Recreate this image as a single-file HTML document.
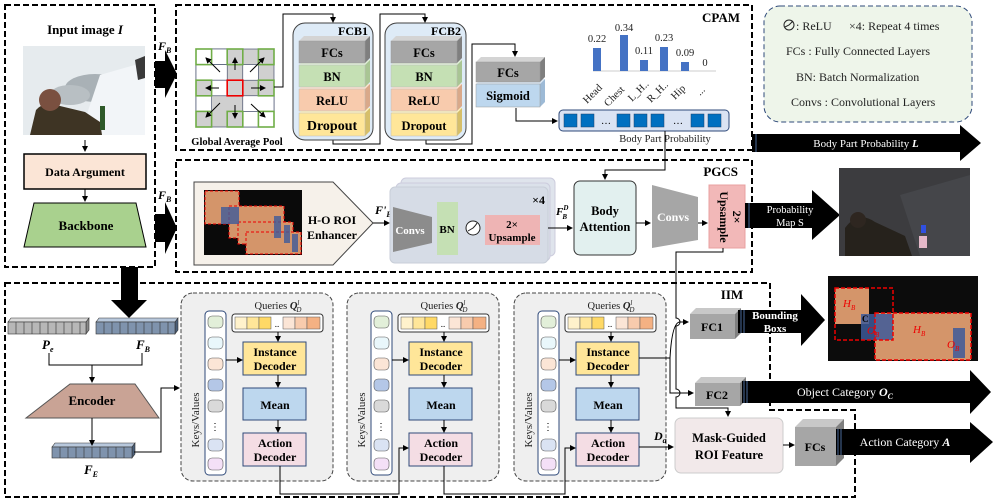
<!DOCTYPE html>
<html><head><meta charset="utf-8"><style>
html,body{margin:0;padding:0;background:#fff}
svg{display:block}
text{font-family:"Liberation Serif",serif}
.b{font-weight:bold}
</style></head><body>
<svg width="997" height="504" viewBox="0 0 997 504" xmlns="http://www.w3.org/2000/svg">
<defs>
<marker id="ar" markerWidth="6" markerHeight="6" refX="5" refY="3" orient="auto"><path d="M0,0 L6,3 L0,6 z" fill="#000"/></marker>
</defs>

<!-- Left box -->
<rect x="5" y="5" width="150" height="262" fill="none" stroke="#000" stroke-width="2" stroke-dasharray="6,3"/>
<text x="85" y="34" font-size="13" text-anchor="middle" class="b">Input image <tspan font-style="italic">I</tspan></text>
<rect x="23" y="46" width="122" height="89" fill="#e6ebee"/>
<ellipse cx="95" cy="88" rx="30" ry="14" fill="#a9b1b6"/>
<ellipse cx="70" cy="95" rx="20" ry="10" fill="#b8bfc3"/>
<path d="M100,75 L145,62 L145,135 L80,135 Z" fill="#f2f5f8"/>
<path d="M135,60 L145,56 L145,78 L138,80 Z" fill="#3a3a3a"/>
<path d="M36,110 Q45,100 60,106 L85,112 L100,122 L102,135 L30,135 Z" fill="#3e3424"/>
<circle cx="50" cy="100" r="11" fill="#7a5040"/>
<rect x="100" y="106" width="5" height="24" fill="#2f5a2a"/>
<line x1="85" y1="140" x2="85" y2="151" stroke="#000" marker-end="url(#ar)"/>
<rect x="24" y="154" width="122" height="35" fill="#fbe5d6" stroke="#000" stroke-width="1.5"/>
<text x="85" y="176" font-size="12" text-anchor="middle" class="b">Data Argument</text>
<line x1="85" y1="189" x2="85" y2="201" stroke="#000" marker-end="url(#ar)"/>
<path d="M34,203 L136,203 L146,247 L24,247 Z" fill="#a9d18e" stroke="#000"/>
<text x="86" y="230" font-size="13" text-anchor="middle" class="b">Backbone</text>

<!-- big arrows -->
<path d="M155,61 L165,61 L165,50 L177,74 L165,98 L165,88 L155,88 Z" fill="#000"/>
<text x="158" y="50" font-size="12" class="b" font-style="italic">F<tspan font-size="8" dy="3">B</tspan></text>
<path d="M155,214 L165,214 L165,202 L177,228 L165,254 L165,242 L155,242 Z" fill="#000"/>
<text x="158" y="199" font-size="12" class="b" font-style="italic">F<tspan font-size="8" dy="3">B</tspan></text>
<path d="M121,267 L138,267 L138,300 L147,300 L129,318 L111,300 L121,300 Z" fill="#000"/>

<!-- CPAM box -->
<rect x="176" y="5" width="576" height="145" fill="none" stroke="#000" stroke-width="2" stroke-dasharray="6,3"/>
<text x="740" y="22" font-size="13" text-anchor="end" class="b">CPAM</text>

<!-- grid -->
<g stroke="#2f3a5a" stroke-width="0.6">
<rect x="196" y="49" width="78" height="78" fill="#d0d0d0"/>
<rect x="211.6" y="49" width="15.6" height="15.6" fill="#fff"/>
<rect x="196" y="64.6" width="31.2" height="15.6" fill="#fff"/>
<rect x="242.8" y="64.6" width="15.6" height="15.6" fill="#fff"/>
<rect x="211.6" y="80.2" width="15.6" height="15.6" fill="#fff"/>
<rect x="196" y="95.8" width="15.6" height="15.6" fill="#fff"/>
<rect x="242.8" y="95.8" width="31.2" height="15.6" fill="#fff"/>
<rect x="242.8" y="111.4" width="15.6" height="15.6" fill="#fff"/>
<rect x="258.4" y="111.4" width="15.6" height="15.6" fill="#fff"/>
<rect x="196" y="49" width="15.6" height="15.6" fill="#fff"/>
</g>
<g fill="none" stroke="#70ad47" stroke-width="1.6">
<rect x="196" y="49" width="15.6" height="15.6"/><rect x="227.2" y="49" width="15.6" height="15.6"/><rect x="258.4" y="49" width="15.6" height="15.6"/>
<rect x="196" y="80.2" width="15.6" height="15.6"/><rect x="258.4" y="80.2" width="15.6" height="15.6"/>
<rect x="196" y="111.4" width="15.6" height="15.6"/><rect x="227.2" y="111.4" width="15.6" height="15.6"/><rect x="258.4" y="111.4" width="15.6" height="15.6"/>
</g>
<rect x="227.2" y="80.2" width="15.6" height="15.6" fill="#d0d0d0" stroke="#e00" stroke-width="1.6"/>
<g stroke="#000" stroke-width="1" marker-end="url(#ar)">
<line x1="220" y1="72" x2="206" y2="58"/><line x1="235" y1="70" x2="235" y2="58"/><line x1="250" y1="72" x2="264" y2="58"/>
<line x1="219" y1="88" x2="206" y2="88"/><line x1="251" y1="88" x2="265" y2="88"/>
<line x1="220" y1="103" x2="206" y2="117"/><line x1="235" y1="105" x2="235" y2="118"/><line x1="251" y1="104" x2="265" y2="117"/>
</g>
<text x="237" y="145" font-size="10.5" text-anchor="middle" class="b">Global Average Pool</text>

<!-- connectors CPAM -->
<g fill="none" stroke="#000" stroke-width="1">
<path d="M274,87 L283,87 L283,14 L333,14 L333,22" marker-end="url(#ar)"/>
<path d="M333,140 L333,144 L380,144 L380,14 L425,14 L425,22" marker-end="url(#ar)"/>
<path d="M426,140 L426,144 L472,144 L472,44 L515,44 L515,56" marker-end="url(#ar)"/>
<path d="M516,108 L516,121 L557,121" marker-end="url(#ar)"/>
</g>

<!-- FCB1 -->
<rect x="293" y="23" width="80" height="117" rx="12" fill="#deebf7" stroke="#404040"/>
<text x="368" y="35" font-size="12" text-anchor="end" class="b">FCB1</text>
<g id="stack1">
<path d="M299,113 L304,108 L370,108 L365,113 Z" fill="#fff2bf"/><path d="M365,113 L370,108 L370,131 L365,136 Z" fill="#d6bf6a"/><rect x="299" y="113" width="66" height="23" fill="#ffe699" stroke="#bbb" stroke-width="0.5"/>
<path d="M299,89 L304,84 L370,84 L365,89 Z" fill="#fde2cf"/><path d="M365,89 L370,84 L370,106 L365,111 Z" fill="#d9a98a"/><rect x="299" y="89" width="66" height="22" fill="#f8cbad" stroke="#bbb" stroke-width="0.5"/>
<path d="M299,65 L304,60 L370,60 L365,65 Z" fill="#e2f0d9"/><path d="M365,65 L370,60 L370,82 L365,87 Z" fill="#a9c594"/><rect x="299" y="65" width="66" height="22" fill="#c5e0b4" stroke="#bbb" stroke-width="0.5"/>
<path d="M299,41 L304,36 L370,36 L365,41 Z" fill="#d4d4d4"/><path d="M365,41 L370,36 L370,58 L365,63 Z" fill="#7f7f7f"/><rect x="299" y="41" width="66" height="22" fill="#a6a6a6" stroke="#999" stroke-width="0.5"/>
</g>
<g font-size="12.5" text-anchor="middle" class="b">
<text x="332" y="57">FCs</text><text x="332" y="81">BN</text><text x="332" y="105">ReLU</text><text x="332" y="130" font-size="14">Dropout</text>
</g>
<!-- FCB2 -->
<rect x="385" y="23" width="81" height="117" rx="12" fill="#deebf7" stroke="#404040"/>
<text x="461" y="35" font-size="12" text-anchor="end" class="b">FCB2</text>
<use href="#stack1" x="92"/>
<g font-size="12.5" text-anchor="middle" class="b">
<text x="424" y="57">FCs</text><text x="424" y="81">BN</text><text x="424" y="105">ReLU</text><text x="424" y="130">Dropout</text>
</g>
<!-- FCs / Sigmoid -->
<path d="M476,84 L481,79 L545,79 L540,84 Z" fill="#dbe8f5"/><path d="M540,84 L545,79 L545,102 L540,107 Z" fill="#9dbad6"/><rect x="476" y="84" width="64" height="23" fill="#bdd7ee" stroke="#999" stroke-width="0.5"/>
<path d="M476,62 L481,57 L545,57 L540,62 Z" fill="#d4d4d4"/><path d="M540,62 L545,57 L545,77 L540,82 Z" fill="#7f7f7f"/><rect x="476" y="62" width="64" height="20" fill="#a6a6a6" stroke="#999" stroke-width="0.5"/>
<text x="508" y="77" font-size="12.5" text-anchor="middle" class="b">FCs</text>
<text x="508" y="100" font-size="12.5" text-anchor="middle" class="b">Sigmoid</text>

<!-- bar chart -->
<line x1="593" y1="71" x2="716" y2="71" stroke="#ccc"/>
<g fill="#4472c4">
<rect x="593" y="48" width="8" height="23"/><rect x="620" y="35" width="8" height="36"/><rect x="640" y="60" width="8" height="11"/><rect x="660" y="47" width="8" height="24"/><rect x="681" y="62" width="8" height="9"/>
</g>
<g font-size="10.5" text-anchor="middle" fill="#222">
<text x="597" y="42">0.22</text><text x="624" y="31">0.34</text><text x="644" y="54">0.11</text><text x="664" y="41">0.23</text><text x="685" y="56">0.09</text><text x="705" y="66">0</text>
</g>
<g font-size="10.5" fill="#222">
<text transform="translate(587,104) rotate(-45)">Head</text>
<text transform="translate(608,107) rotate(-45)">Chest</text>
<text transform="translate(632,102) rotate(-45)">L_H..</text>
<text transform="translate(651,103) rotate(-45)">R_H..</text>
<text transform="translate(675,100) rotate(-45)">Hip</text>
<text transform="translate(700,96) rotate(-45)">...</text>
</g>
<rect x="559" y="110" width="170" height="21" rx="4" fill="#dae3f3" stroke="#2f4a7a"/>
<g fill="#0070c0" stroke="#1f3f6a" stroke-width="0.5">
<rect x="564" y="114" width="13" height="13"/><rect x="581" y="114" width="13" height="13"/>
<rect x="617" y="114" width="13" height="13"/><rect x="634" y="114" width="13" height="13"/><rect x="651" y="114" width="13" height="13"/>
<rect x="691" y="114" width="13" height="13"/><rect x="708" y="114" width="13" height="13"/>
</g>
<text x="606" y="124" font-size="10" text-anchor="middle">…</text><text x="678" y="124" font-size="10" text-anchor="middle">…</text>
<text x="665" y="142" font-size="10.5" text-anchor="middle" fill="#222">Body Part Probability</text>

<!-- Legend -->
<rect x="764" y="6" width="208" height="116" rx="16" fill="#eef5ea" stroke="#2f4a7a" stroke-dasharray="5,3"/>
<g font-size="12" fill="#222">
<circle cx="789" cy="25" r="5" fill="none" stroke="#222"/><path d="M785,27 L789,25 Q792,22 793,21" fill="none" stroke="#222"/>
<text x="796" y="30">: ReLU</text><text x="849" y="30">×4: Repeat 4 times</text>
<text x="786" y="55">FCs : Fully Connected Layers</text>
<text x="796" y="81">BN: Batch Normalization</text>
<text x="791" y="106">Convs :  Convolutional Layers</text>
</g>
<path d="M752,134 L960,134 L960,125 L981,143 L960,161 L960,152 L752,152 Z" fill="#000"/>
<line x1="756" y1="134" x2="756" y2="152" stroke="#4a6a9a"/>
<text x="866" y="147" font-size="11" fill="#fff" text-anchor="middle">Body Part Probability <tspan font-weight="bold" font-style="italic">L</tspan></text>

<!-- PGCS box -->
<rect x="176" y="160" width="576" height="112" fill="none" stroke="#000" stroke-width="2" stroke-dasharray="6,3"/>
<text x="738" y="176" font-size="13" text-anchor="end" class="b">PGCS</text>
<path d="M194,182 L333,182 L373,223 L333,265 L194,265 Z" fill="#f6f1ea" stroke="#444"/>
<rect x="204" y="190" width="98" height="65" fill="#0a0a0a"/>
<rect x="205" y="191" width="34" height="33" fill="#d4956a" stroke="#e00" stroke-dasharray="3,2"/>
<rect x="229" y="206" width="55" height="32" fill="#d4956a" stroke="#e00" stroke-dasharray="3,2"/>
<rect x="238" y="222" width="55" height="22" fill="#d4956a" stroke="#e00" stroke-dasharray="3,2"/>
<rect x="246" y="232" width="55" height="22" fill="#d4956a" stroke="#e00" stroke-dasharray="3,2"/>
<rect x="221" y="207" width="18" height="17" fill="#3d5a9a" opacity="0.8"/>
<rect x="274" y="216" width="7" height="22" fill="#3d5a9a" opacity="0.8"/>
<rect x="284" y="225" width="6" height="18" fill="#3d5a9a" opacity="0.8"/>
<rect x="292" y="234" width="6" height="18" fill="#3d5a9a" opacity="0.8"/>
<text x="332" y="224" font-size="12" text-anchor="middle" class="b">H-O ROI</text>
<text x="332" y="239" font-size="12" text-anchor="middle" class="b">Enhancer</text>
<text x="375" y="214" font-size="12" class="b" font-style="italic">F'<tspan font-size="8" dy="3">B</tspan></text>
<line x1="373" y1="223" x2="389" y2="223" stroke="#000" marker-end="url(#ar)"/>
<rect x="401" y="178" width="154" height="78" rx="5" fill="#dfe4ec" stroke="#ccd"/>
<rect x="396" y="183" width="154" height="78" rx="5" fill="#dbe1ea" stroke="#ccd"/>
<rect x="390" y="187" width="158" height="76" rx="5" fill="#d6dce6" stroke="#c8ced8"/>
<text x="545" y="204" font-size="12" text-anchor="end" class="b">×4</text>
<path d="M393,207 L432,217 L432,243 L393,252 Z" fill="#8c8c8c"/>
<text x="410" y="234" font-size="11" fill="#fff" text-anchor="middle" class="b">Convs</text>
<rect x="437" y="202" width="21" height="53" fill="#c5e0b4"/>
<text x="447" y="233" font-size="11" text-anchor="middle" class="b">BN</text>
<circle cx="473" cy="228" r="7" fill="#fff" stroke="#222"/><path d="M468,231 L473,228 Q476,225 477,223" fill="none" stroke="#222"/>
<rect x="485" y="215" width="55" height="30" fill="#eeb4b4"/>
<text x="512" y="228" font-size="11" text-anchor="middle" class="b">2×</text>
<text x="512" y="241" font-size="11" text-anchor="middle" class="b">Upsample</text>
<text x="556" y="215" font-size="11" class="b" font-style="italic">F<tspan font-size="7" dy="-5">D</tspan><tspan font-size="7" dx="-6" dy="9">B</tspan></text>
<line x1="548" y1="228" x2="572" y2="228" stroke="#000" marker-end="url(#ar)"/>
<rect x="574" y="181" width="62" height="74" rx="6" fill="#e2f0ef" stroke="#333"/>
<text x="605" y="215" font-size="12.5" text-anchor="middle" class="b">Body</text>
<text x="605" y="231" font-size="12.5" text-anchor="middle" class="b">Attention</text>
<path d="M665,131 L665,170 L605,170 L605,179" fill="none" stroke="#000" marker-end="url(#ar)"/>
<line x1="636" y1="223" x2="650" y2="223" stroke="#000" marker-end="url(#ar)"/>
<path d="M652,185 L698,197 L698,240 L652,248 Z" fill="#a6a6a6"/>
<text x="673" y="221" font-size="12" fill="#fff" text-anchor="middle" class="b">Convs</text>
<line x1="698" y1="223" x2="707" y2="223" stroke="#000" marker-end="url(#ar)"/>
<rect x="709" y="185" width="36" height="63" fill="#f2b8b8" stroke="#e8a0a0"/>
<text transform="translate(720,217) rotate(90)" font-size="12" text-anchor="middle" class="b">Upsample</text>
<text transform="translate(733,217) rotate(90)" font-size="12" text-anchor="middle" class="b">2×</text>
<path d="M745,203 L812,203 L812,190 L840,215 L812,240 L812,228 L745,228 Z" fill="#000"/>
<line x1="749" y1="203" x2="749" y2="228" stroke="#4a6a9a"/>
<text x="790" y="213" font-size="10.5" fill="#fff" text-anchor="middle">Probability</text>
<text x="790" y="226" font-size="10.5" fill="#fff" text-anchor="middle">Map S</text>
<rect x="839" y="168" width="131" height="88" fill="#3c3c3f"/>
<path d="M900,195 L970,175 L970,256 L920,256 Z" fill="#45464a"/>
<path d="M845,228 Q858,210 875,222 L905,236 L912,256 L845,256 Z" fill="#26221c"/>
<circle cx="858" cy="220" r="8" fill="#2e2620"/>
<rect x="921" y="225" width="5" height="8" fill="#3050e0"/>
<rect x="919" y="236" width="8" height="12" fill="#e4b8c8"/>

<!-- bottom box -->
<path d="M5,283 L770,283 L770,410 L855,410 L855,497 L5,497 Z" fill="none" stroke="#000" stroke-width="2" stroke-dasharray="6,3"/>
<text x="732" y="299" font-size="13" text-anchor="middle" class="b">IIM</text>
<g stroke="#333" stroke-width="0.6">
<path d="M8,322 L11,318 L89,318 L86,322 Z" fill="#d9d9d9"/><path d="M86,322 L89,318 L89,330 L86,334 Z" fill="#888"/><rect x="8" y="322" width="78" height="12" fill="#b7b7b7"/>
<path d="M96,322 L99,318 L178,318 L175,322 Z" fill="#b8c8dc"/><path d="M175,322 L178,318 L178,330 L175,334 Z" fill="#4a5e78"/><rect x="96" y="322" width="79" height="12" fill="#7f93ad"/>
<path d="M52,447 L55,443 L135,443 L132,447 Z" fill="#b8c8dc"/><path d="M132,447 L135,443 L135,454 L132,458 Z" fill="#4a5e78"/><rect x="52" y="447" width="80" height="11" fill="#7f93ad"/>
</g>
<g stroke="#333" stroke-width="0.6">
<path d="M16,322 v12 M24,322 v12 M32,322 v12 M40,322 v12 M48,322 v12 M56,322 v12 M64,322 v12 M72,322 v12 M80,322 v12"/>
<path d="M104,322 v12 M112,322 v12 M120,322 v12 M128,322 v12 M136,322 v12 M144,322 v12 M152,322 v12 M160,322 v12 M168,322 v12"/>
<path d="M60,447 v11 M68,447 v11 M76,447 v11 M84,447 v11 M92,447 v11 M100,447 v11 M108,447 v11 M116,447 v11 M124,447 v11"/>
</g>
<text x="42" y="349" font-size="13" class="b" font-style="italic">P<tspan font-size="8" dy="3">e</tspan></text>
<text x="136" y="349" font-size="13" class="b" font-style="italic">F<tspan font-size="8" dy="3">B</tspan></text>
<text x="84" y="474" font-size="13" class="b" font-style="italic">F<tspan font-size="8" dy="3">E</tspan></text>
<path d="M49,353 L49,365 L142,365 L142,353 M92,365 L92,382" fill="none" stroke="#000" marker-end="url(#ar)"/>
<path d="M70,384 L135,384 L159,418 L26,418 Z" fill="#c9a395" stroke="#555"/>
<text x="92" y="405" font-size="13" text-anchor="middle" class="b">Encoder</text>
<line x1="92" y1="418" x2="92" y2="445" stroke="#000" marker-end="url(#ar)"/>
<path d="M134,452 L161,452 L161,388 L179,388" fill="none" stroke="#000" marker-end="url(#ar)"/>

<g id="grp">
<rect x="181" y="293" width="152" height="188" rx="12" fill="#efefef" stroke="#444" stroke-dasharray="4,2"/>
<rect x="205" y="311" width="21" height="164" rx="4" fill="#fff" stroke="#2f4a7a"/>
<g stroke="#555" stroke-width="0.6">
<rect x="208" y="316" width="15" height="12" rx="4" fill="#e2efd9"/>
<rect x="208" y="337" width="15" height="12" rx="4" fill="#e9f7fb"/>
<rect x="208" y="358" width="15" height="12" rx="4" fill="#fbe5d6"/>
<rect x="208" y="379" width="15" height="12" rx="4" fill="#b4c7e7"/>
<rect x="208" y="400" width="15" height="12" rx="4" fill="#d9d9d9"/>
<rect x="208" y="439" width="15" height="12" rx="4" fill="#dae3f3"/>
<rect x="208" y="458" width="15" height="12" rx="4" fill="#f4e0f7"/>
</g>
<text x="215" y="430" font-size="10" text-anchor="middle">⋮</text>
<text transform="translate(199,420) rotate(-90)" font-size="11" text-anchor="middle" fill="#222">Keys/Values</text>
<text x="278" y="309" font-size="10.5" text-anchor="middle" fill="#222">Queries <tspan font-weight="bold" font-style="italic">Q</tspan><tspan font-size="7" dy="-4" font-style="italic">l</tspan><tspan font-size="7" dx="-3" dy="7" font-style="italic">D</tspan></text>
<rect x="232" y="314" width="91" height="18" rx="3" fill="#fff" stroke="#333"/>
<g stroke="#555" stroke-width="0.5">
<rect x="235" y="317" width="12" height="12" fill="#fff2cc"/><rect x="247" y="317" width="12" height="12" fill="#ffe699"/><rect x="259" y="317" width="12" height="12" fill="#ffd966"/>
<rect x="283" y="317" width="12" height="12" fill="#fbe5d6"/><rect x="295" y="317" width="12" height="12" fill="#f8cbad"/><rect x="307" y="317" width="13" height="12" fill="#f4b183"/>
</g>
<text x="277" y="327" font-size="9" text-anchor="middle">..</text>
<rect x="243" y="342" width="63" height="33" fill="#ffe699" stroke="#2f4a7a"/>
<text x="275" y="356" font-size="12" text-anchor="middle" class="b">Instance</text>
<text x="275" y="370" font-size="12" text-anchor="middle" class="b">Decoder</text>
<rect x="243" y="388" width="63" height="32" fill="#bdd7ee" stroke="#2f4a7a"/>
<text x="275" y="409" font-size="12" text-anchor="middle" class="b">Mean</text>
<rect x="243" y="433" width="63" height="33" fill="#f4dde4" stroke="#2f4a7a"/>
<text x="275" y="447" font-size="12" text-anchor="middle" class="b">Action</text>
<text x="275" y="461" font-size="12" text-anchor="middle" class="b">Decoder</text>
<g stroke="#000" fill="none">
<line x1="278" y1="332" x2="278" y2="341" marker-end="url(#ar)"/>
<line x1="278" y1="375" x2="278" y2="387" marker-end="url(#ar)"/>
<line x1="278" y1="420" x2="278" y2="432" marker-end="url(#ar)"/>
<line x1="226" y1="360" x2="242" y2="360" marker-end="url(#ar)"/>
</g>
</g>
<use href="#grp" x="166"/>
<use href="#grp" x="333"/>
<g stroke="#000" fill="none">
<path d="M280,466 L280,494 L399,494 L399,448 L408,448" marker-end="url(#ar)"/>
<path d="M444,466 L444,494 L565,494 L565,448 L575,448" marker-end="url(#ar)"/>
<path d="M639,358 L670,358 Q672,322 680,322 L688,322" marker-end="url(#ar)"/>
<path d="M670,358 L670,393 L693,393" marker-end="url(#ar)"/>
<path d="M723,248 L723,252 L676,252 L676,318 a4,4 0 0 1 0,8 L676,389 a4,4 0 0 1 0,8 L676,408 L728,408 L728,416" marker-end="url(#ar)"/>
<line x1="639" y1="447" x2="673" y2="447" marker-end="url(#ar)"/>
</g>
<text x="654" y="440" font-size="12" class="b" font-style="italic">D<tspan font-size="8" dy="3">a</tspan></text>

<path d="M690,314 L696,308 L741,308 L735,314 Z" fill="#c8c8c8"/><path d="M735,314 L741,308 L741,333 L735,339 Z" fill="#7f7f7f"/><rect x="690" y="314" width="45" height="25" fill="#a6a6a6"/>
<text x="712" y="331" font-size="12" text-anchor="middle" class="b">FC1</text>
<path d="M695,383 L701,377 L746,377 L740,383 Z" fill="#c8c8c8"/><path d="M740,383 L746,377 L746,400 L740,406 Z" fill="#7f7f7f"/><rect x="695" y="383" width="45" height="23" fill="#a6a6a6"/>
<text x="717" y="399" font-size="12" text-anchor="middle" class="b">FC2</text>
<path d="M738,310 L801,310 L801,294 L825,320 L801,346 L801,333 L738,333 Z" fill="#000"/>
<path d="M741,310 v23 M744,310 v23" stroke="#4a6a9a"/>
<text x="775" y="319" font-size="11" fill="#fff" text-anchor="middle" class="b">Bounding</text>
<text x="775" y="332" font-size="11" fill="#fff" text-anchor="middle" class="b">Boxs</text>
<rect x="828" y="276" width="150" height="85" fill="#0c0c0c"/>
<rect x="835" y="288" width="34" height="36" fill="#d4956a"/>
<rect x="875" y="313" width="96" height="47" fill="#d4956a"/>
<rect x="861" y="314" width="32" height="26" fill="#3d5a9a" opacity="0.85"/>
<rect x="953" y="328" width="12" height="30" fill="#3d5a9a" opacity="0.85"/>
<rect x="835" y="288" width="58" height="52" fill="none" stroke="#e00" stroke-width="1.5" stroke-dasharray="4,2"/>
<rect x="875" y="313" width="96" height="47" fill="none" stroke="#e00" stroke-width="1.5" stroke-dasharray="4,2"/>
<g font-size="11" fill="#e00" font-style="italic">
<text x="843" y="307">H<tspan font-size="7" dy="3">B</tspan></text>
<text x="867" y="334">O<tspan font-size="7" dy="3">B</tspan></text>
<text x="913" y="333">H<tspan font-size="7" dy="3">B</tspan></text>
<text x="947" y="348">O<tspan font-size="7" dy="3">B</tspan></text>
</g>
<text x="862" y="322" font-size="9" class="b">C</text>
<path d="M742,381 L970,381 L970,370 L991,392 L970,414 L970,403 L742,403 Z" fill="#000"/>
<path d="M744,381 v22 M747,381 v22" stroke="#4a6a9a"/>
<text x="845" y="396" font-size="12" fill="#fff" text-anchor="middle">Object Category <tspan font-weight="bold" font-style="italic">O<tspan font-size="8" dy="3">C</tspan></tspan></text>
<rect x="675" y="418" width="108" height="55" rx="6" fill="#f2e9ea" stroke="#ccc"/>
<text x="729" y="442" font-size="12.5" text-anchor="middle" class="b">Mask-Guided</text>
<text x="729" y="459" font-size="12.5" text-anchor="middle" class="b">ROI Feature</text>
<line x1="783" y1="445" x2="794" y2="445" stroke="#000" marker-end="url(#ar)"/>
<path d="M795,427 L803,419 L844,419 L836,427 Z" fill="#c8c8c8"/><path d="M836,427 L844,419 L844,458 L836,466 Z" fill="#7f7f7f"/><rect x="795" y="427" width="41" height="39" fill="#a6a6a6"/>
<text x="815" y="451" font-size="12" text-anchor="middle" class="b">FCs</text>
<path d="M836,429 L970,429 L970,422 L993,442 L970,463 L970,455 L836,455 Z" fill="#000"/>
<path d="M838,429 v26 M841,429 v26" stroke="#4a6a9a"/>
<text x="905" y="446" font-size="12" fill="#fff" text-anchor="middle">Action Category <tspan font-weight="bold" font-style="italic">A</tspan></text>
</svg>
</body></html>
